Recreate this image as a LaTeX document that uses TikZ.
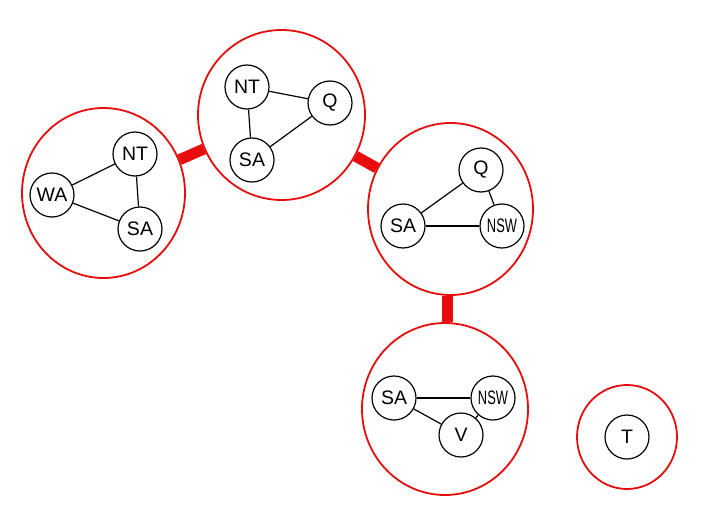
\documentclass[tikz,border=0pt]{standalone}
\usepackage{fontspec}
\setmainfont{Liberation Sans}
\usetikzlibrary{shapes.geometric}
\definecolor{cred}{RGB}{232,12,12}
\begin{document}
\begin{tikzpicture}[x=1pt,y=1pt,
  grp/.style={ellipse,draw=cred,line width=1.8pt,inner sep=0pt},
  var/.style={circle,draw=black,line width=1.2pt,minimum size=44pt,inner sep=0pt,
    font=\fontsize{19.5}{21}\selectfont},
  edge/.style={draw=black,line width=1.2pt},
  conn/.style={draw=cred,line width=11pt}]
\useasboundingbox (0,0) rectangle (708,515);
% cluster ellipses
\node[grp,minimum width=163pt,minimum height=170pt] (L) at (103.5,322) {};
\node[grp,minimum width=167pt,minimum height=170pt] (TP) at (281.5,400) {};
\node[grp,minimum width=165pt,minimum height=172pt] (R) at (450.5,306) {};
\node[grp,minimum width=166pt,minimum height=172pt] (B) at (445,106) {};
\node[grp,minimum width=100pt,minimum height=104pt] (TT) at (627,78) {};
% separator links
\draw[conn] (L) -- (TP);
\draw[conn] (TP) -- (R);
\draw[conn] ([xshift=-3.5pt]R.south) -- ([xshift=2pt]B.north);
% left cluster
\node[var] (lnt) at (135,361) {NT};
\node[var] (lwa) at (52,320) {WA};
\node[var] (lsa) at (140,286) {SA};
\draw[edge] (lwa) -- (lnt);
\draw[edge] (lwa) -- (lsa);
\draw[edge] (lnt) -- (lsa);
% top cluster
\node[var] (tnt) at (247,428) {NT};
\node[var] (tq) at (330,412) {Q};
\node[var] (tsa) at (252,355) {SA};
\draw[edge] (tnt) -- (tq);
\draw[edge] (tnt) -- (tsa);
\draw[edge] (tsa) -- (tq);
% right cluster
\node[var] (rq) at (481,345) {Q};
\node[var] (rsa) at (403,289) {SA};
\node[var] (rnsw) at (502,289) {\scalebox{0.66}[1]{NSW}};
\draw[edge] (rsa) -- (rq);
\draw[edge] (rsa) -- (rnsw);
\draw[edge] (rq) -- (rnsw);
% bottom cluster
\node[var] (bsa) at (394,117) {SA};
\node[var] (bnsw) at (493,117) {\scalebox{0.66}[1]{NSW}};
\node[var] (bv) at (461,80) {V};
\draw[edge] (bsa) -- (bnsw);
\draw[edge] (bsa) -- (bv);
\draw[edge] (bv) -- (bnsw);
% T
\node[var] (tt) at (627,78) {T};
\end{tikzpicture}
\end{document}
